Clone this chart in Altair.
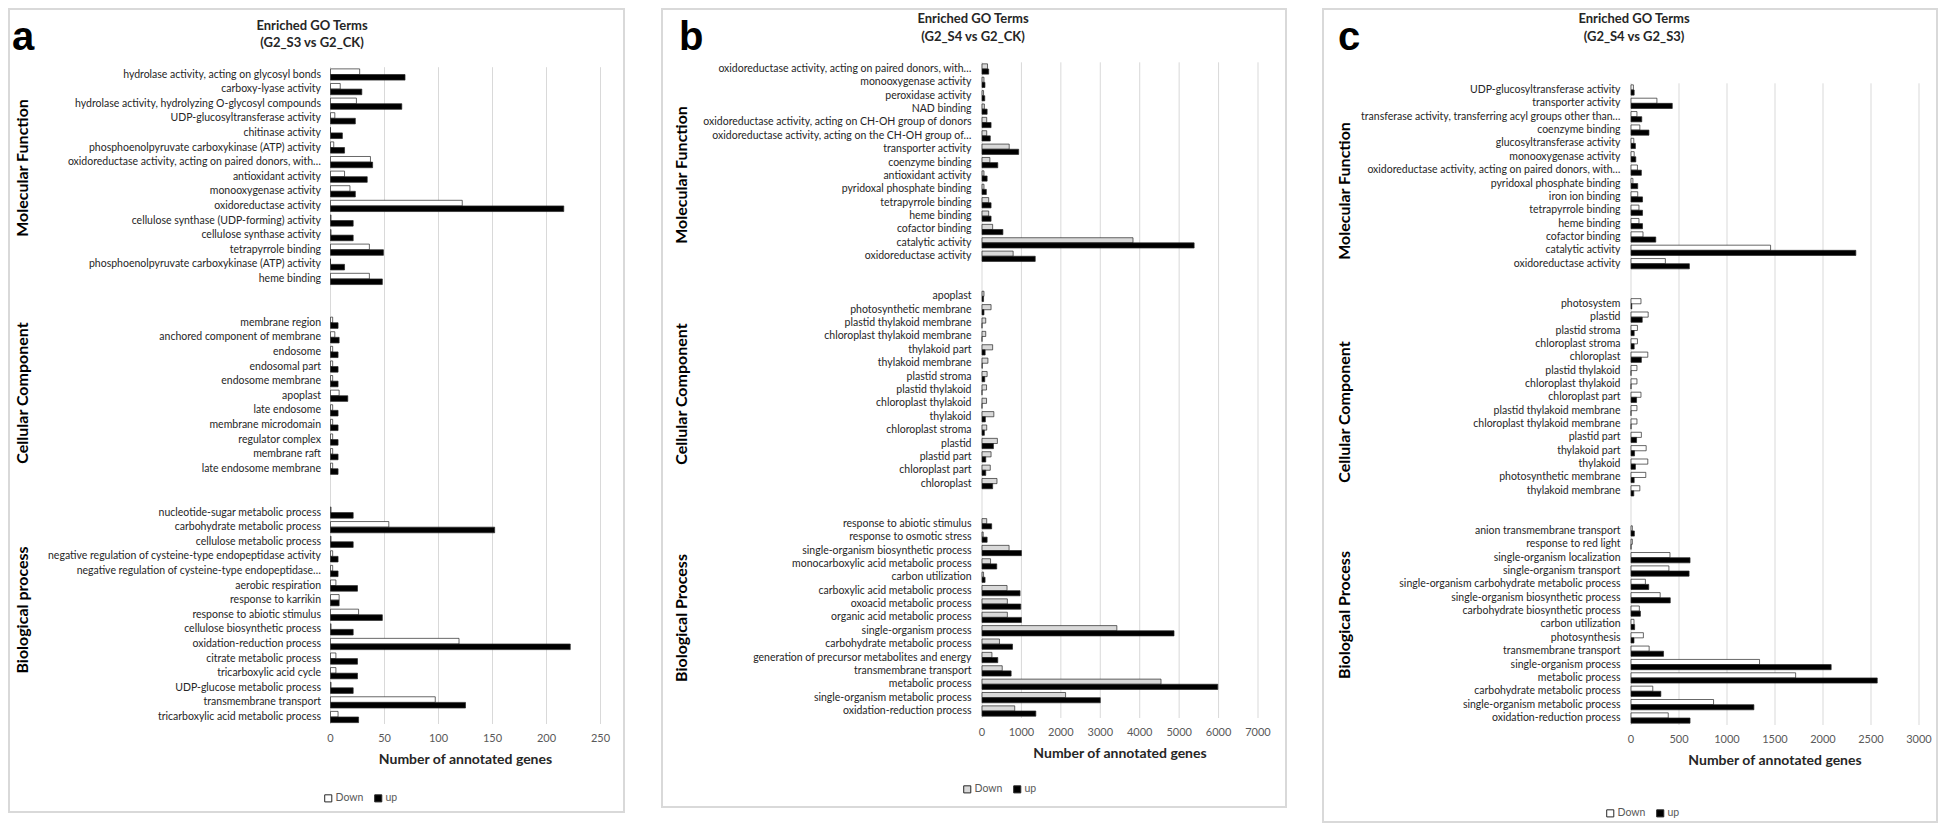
import altair as alt
import pandas as pd

# ---------------- data ----------------
SERIES = ["Down", "up"]
PANEL_LETTERS = ["a", "b", "c"]
PANEL_TITLES = [
    ["Enriched GO Terms", "(G2_S3 vs G2_CK)"],
    ["Enriched GO Terms", "(G2_S4 vs G2_CK)"],
    ["Enriched GO Terms", "(G2_S4 vs G2_S3)"],
]
GROUPS_A = ["Molecular Function", "Cellular Component", "Biological process"]
GROUPS_BC = ["Molecular Function", "Cellular Component", "Biological Process"]
X_TITLE = "Number of annotated genes"

# panel a
a_mf_terms = ["hydrolase activity, acting on glycosyl bonds", "carboxy-lyase activity",
              "hydrolase activity, hydrolyzing O-glycosyl compounds", "UDP-glucosyltransferase activity",
              "chitinase activity", "phosphoenolpyruvate carboxykinase (ATP) activity",
              "oxidoreductase activity, acting on paired donors, with\u2026", "antioxidant activity",
              "monooxygenase activity", "oxidoreductase activity", "cellulose synthase (UDP-forming) activity",
              "cellulose synthase activity", "tetrapyrrole binding",
              "phosphoenolpyruvate carboxykinase (ATP) activity", "heme binding"]
a_mf_down = [27, 9, 24, 4, 0, 3, 37, 13, 18, 122, 0.5, 0.5, 36, 0, 36]
a_mf_up = [69, 29, 66, 23, 11, 13, 39, 34, 23, 216, 21, 21, 49, 13, 48]

a_cc_terms = ["membrane region", "anchored component of membrane", "endosome", "endosomal part",
              "endosome membrane", "apoplast", "late endosome", "membrane microdomain",
              "regulator complex", "membrane raft", "late endosome membrane"]
a_cc_down = [2, 4, 2, 2, 2, 8, 2, 2, 2, 2, 2]
a_cc_up = [7, 8, 7, 7, 7, 16, 7, 7, 7, 7, 7]

a_bp_terms = ["nucleotide-sugar metabolic process", "carbohydrate metabolic process",
              "cellulose metabolic process",
              "negative regulation of cysteine-type endopeptidase activity",
              "negative regulation of cysteine-type endopeptidase\u2026", "aerobic respiration",
              "response to karrikin", "response to abiotic stimulus", "cellulose biosynthetic process",
              "oxidation-reduction process", "citrate metabolic process", "tricarboxylic acid cycle",
              "UDP-glucose metabolic process", "transmembrane transport",
              "tricarboxylic acid metabolic process"]
a_bp_down = [0.5, 54, 0.5, 2, 2, 5, 8, 26, 0.5, 119, 5, 5, 0.5, 97, 7]
a_bp_up = [21, 152, 21, 7, 7, 25, 8, 48, 21, 222, 25, 25, 21, 125, 26]
a_ticks = [0, 50, 100, 150, 200, 250]

# panel b
b_mf_terms = ["oxidoreductase activity, acting on paired donors, with\u2026", "monooxygenase activity",
              "peroxidase activity", "NAD binding",
              "oxidoreductase activity, acting on CH-OH group of donors",
              "oxidoreductase activity, acting on the CH-OH group of\u2026", "transporter activity",
              "coenzyme binding", "antioxidant activity", "pyridoxal phosphate binding",
              "tetrapyrrole binding", "heme binding", "cofactor binding", "catalytic activity",
              "oxidoreductase activity"]
b_mf_down = [140, 50, 40, 60, 120, 120, 690, 200, 50, 50, 170, 170, 270, 3830, 790]
b_mf_up = [170, 75, 70, 130, 230, 210, 930, 400, 130, 110, 230, 230, 530, 5380, 1350]

b_cc_terms = ["apoplast", "photosynthetic membrane", "plastid thylakoid membrane",
              "chloroplast thylakoid membrane", "thylakoid part", "thylakoid membrane", "plastid stroma",
              "plastid thylakoid", "chloroplast thylakoid", "thylakoid", "chloroplast stroma", "plastid",
              "plastid part", "chloroplast part", "chloroplast"]
b_cc_down = [50, 230, 95, 95, 270, 150, 130, 115, 115, 300, 120, 390, 230, 210, 380]
b_cc_up = [40, 50, 0, 0, 80, 5, 70, 0, 0, 85, 60, 290, 95, 95, 270]

b_bp_terms = ["response to abiotic stimulus", "response to osmotic stress",
              "single-organism biosynthetic process", "monocarboxylic acid metabolic process",
              "carbon utilization", "carboxylic acid metabolic process", "oxoacid metabolic process",
              "organic acid metabolic process", "single-organism process", "carbohydrate metabolic process",
              "generation of precursor metabolites and energy", "transmembrane transport",
              "metabolic process", "single-organism metabolic process", "oxidation-reduction process"]
b_bp_down = [120, 30, 687, 217, 40, 635, 643, 643, 3420, 443, 252, 513, 4540, 2120, 830]
b_bp_up = [245, 130, 1000, 374, 78, 965, 983, 1000, 4870, 774, 400, 739, 5980, 3000, 1365]
b_ticks = [0, 1000, 2000, 3000, 4000, 5000, 6000, 7000]

# panel c
c_mf_terms = ["UDP-glucosyltransferase activity", "transporter activity",
              "transferase activity, transferring acyl groups other than\u2026", "coenzyme binding",
              "glucosyltransferase activity", "monooxygenase activity",
              "oxidoreductase activity, acting on paired donors, with\u2026", "pyridoxal phosphate binding",
              "iron ion binding", "tetrapyrrole binding", "heme binding", "cofactor binding",
              "catalytic activity", "oxidoreductase activity"]
c_mf_down = [25, 270, 62, 92, 29, 33, 67, 20, 70, 83, 83, 125, 1454, 358]
c_mf_up = [33, 430, 112, 187, 46, 50, 108, 70, 120, 120, 120, 258, 2342, 608]

c_cc_terms = ["photosystem", "plastid", "plastid stroma", "chloroplast stroma", "chloroplast",
              "plastid thylakoid", "chloroplast thylakoid", "chloroplast part", "plastid thylakoid membrane",
              "chloroplast thylakoid membrane", "plastid part", "thylakoid part", "thylakoid",
              "photosynthetic membrane", "thylakoid membrane"]
c_cc_down = [104, 179, 67, 67, 175, 62, 62, 104, 62, 62, 108, 158, 175, 154, 92]
c_cc_up = [8, 117, 33, 33, 108, 0, 0, 58, 0, 0, 58, 37, 46, 33, 29]

c_bp_terms = ["anion transmembrane transport", "response to red light", "single-organism localization",
              "single-organism transport", "single-organism carbohydrate metabolic process",
              "single-organism biosynthetic process", "carbohydrate biosynthetic process",
              "carbon utilization", "photosynthesis", "transmembrane transport", "single-organism process",
              "metabolic process", "carbohydrate metabolic process", "single-organism metabolic process",
              "oxidation-reduction process"]
c_bp_down = [14, 14, 406, 395, 150, 304, 87, 31, 129, 189, 1339, 1715, 227, 860, 388]
c_bp_up = [35, 0, 615, 605, 185, 409, 98, 38, 31, 339, 2085, 2565, 311, 1280, 615]
c_ticks = [0, 500, 1000, 1500, 2000, 2500, 3000]

# ---------------- layout ----------------
W, H = 1930, 815
FONT = "Lato"
LABEL_COLOR = "#262626"
TICK_COLOR = "#595959"
GRID_COLOR = "#d9d9d9"
dummy = pd.DataFrame({"d": [0]})


def build_domain(groups):
    used = set()

    def uniq(s):
        while s in used:
            s += "\u200b"
        used.add(s)
        return s

    domain, keys = [], []
    for gi, terms in enumerate(groups):
        if gi > 0:
            domain.append(uniq("\u200b"))
            domain.append(uniq("\u200b"))
        ks = [uniq(t) for t in terms]
        keys.append(ks)
        domain.extend(ks)
    return domain, keys


def panel(groups, downs, ups, ticks, xr, yr, axis_y, down_fill, legend_xy, label_pad):
    domain, keys = build_domain(groups)
    term_keys = [k for ks in keys for k in ks]
    rows = []
    for ks, ds, us in zip(keys, downs, ups):
        for k, d, u in zip(ks, ds, us):
            rows.append({"term": k, "series": "Down", "value": d})
            rows.append({"term": k, "series": "up", "value": u})
    df = pd.DataFrame(rows)
    xscale = alt.Scale(domain=[ticks[0], ticks[-1]], range=xr, nice=False)
    yscale = alt.Scale(domain=domain, range=yr, paddingInner=0.23, paddingOuter=0.115)

    tick_df = pd.DataFrame({"v": ticks, "lab": [str(t) for t in ticks]})
    grid = alt.Chart(tick_df).mark_rule(color=GRID_COLOR, strokeWidth=1).encode(
        x=alt.X("v:Q", scale=xscale, axis=None),
        y=alt.value(yr[0]),
        y2=alt.value(axis_y),
    )
    tick_labels = alt.Chart(tick_df).mark_text(
        font=FONT, fontSize=11, color=TICK_COLOR, baseline="middle", align="center"
    ).encode(
        x=alt.X("v:Q", scale=xscale, axis=None),
        y=alt.value(axis_y + 15),
        text="lab:N",
    )
    x_title = alt.Chart(dummy).mark_text(
        text=X_TITLE, font=FONT, fontSize=14, fontWeight="bold", color=LABEL_COLOR, baseline="middle"
    ).encode(x=alt.value((xr[0] + xr[1]) / 2), y=alt.value(axis_y + 36))

    bars = alt.Chart(df).mark_bar(stroke="#262626", strokeWidth=0.7).encode(
        y=alt.Y("term:N", scale=yscale, title=None,
                axis=alt.Axis(orient="left", offset=-xr[0], values=term_keys, domain=False, ticks=False,
                              tickSize=0, grid=False, labelPadding=label_pad, labelFont=FONT,
                              labelFontSize=10.5, labelColor=LABEL_COLOR, labelLimit=700)),
        x=alt.X("value:Q", scale=xscale, axis=None),
        yOffset=alt.YOffset("series:N", scale=alt.Scale(domain=SERIES)),
        fill=alt.Fill("series:N", scale=alt.Scale(domain=SERIES, range=[down_fill, "#000000"]),
                      legend=alt.Legend(orient="none", legendX=legend_xy[0], legendY=legend_xy[1],
                                        direction="horizontal", title=None, symbolType="square",
                                        symbolSize=50, symbolStrokeColor="#262626", symbolStrokeWidth=1,
                                        labelFont=FONT, labelFontSize=10.5, labelColor=TICK_COLOR,
                                        columnPadding=8, labelOffset=2, padding=0)),
    )
    return alt.layer(grid, bars, tick_labels, x_title)


pa = panel([a_mf_terms, a_cc_terms, a_bp_terms], [a_mf_down, a_cc_down, a_bp_down],
           [a_mf_up, a_cc_up, a_bp_up], a_ticks, [322.5, 592.5], [59.2, 716.3], 716,
           "#ffffff", (315, 785), 10)
pb = panel([b_mf_terms, b_cc_terms, b_bp_terms], [b_mf_down, b_cc_down, b_bp_down],
           [b_mf_up, b_cc_up, b_bp_up], b_ticks, [974, 1250], [54.3, 709.7], 710,
           "#d9d9d9", (954, 776), 11)
pc = panel([c_mf_terms, c_cc_terms, c_bp_terms], [c_mf_down, c_cc_down, c_bp_down],
           [c_mf_up, c_cc_up, c_bp_up], c_ticks, [1623, 1911], [75.3, 716.7], 717,
           "#ffffff", (1597, 800), 11)


def box(x1, x2, y1, y2):
    return alt.Chart(dummy).mark_rect(fillOpacity=0, stroke=GRID_COLOR, strokeWidth=2).encode(
        x=alt.value(x1), x2=alt.value(x2), y=alt.value(y1), y2=alt.value(y2))


def txt(s, x, y, size, weight="bold", font=FONT, align="center", baseline="middle", angle=0,
        color=LABEL_COLOR):
    m = dict(text=s, font=font, fontSize=size, fontWeight=weight, align=align, baseline=baseline,
             color=color)
    if angle:
        m["angle"] = angle
    return alt.Chart(dummy).mark_text(**m).encode(x=alt.value(x), y=alt.value(y))


decor = [
    box(1, 616, 1, 804), box(654, 1278, 1, 799), box(1315, 1929, 1, 814),
]
letter_pos = [(4, 42), (671, 42), (1330, 42)]
for L, (lx, ly) in zip(PANEL_LETTERS, letter_pos):
    decor.append(txt(L, lx, ly, 40, font="Liberation Sans", align="left", baseline="alphabetic",
                     color="#000000"))
title_pos = [(304, 18, 35), (965, 11, 29), (1626, 11, 29)]
for T, (tx, ty1, ty2) in zip(PANEL_TITLES, title_pos):
    decor.append(txt(T[0], tx, ty1, 13))
    decor.append(txt(T[1], tx, ty2, 13))
group_pos = [
    (15, [160, 385, 602], GROUPS_A),
    (674, [167, 386, 610], GROUPS_BC),
    (1337, [183, 404, 607], GROUPS_BC),
]
for gx, gys, names in group_pos:
    for name, gy in zip(names, gys):
        decor.append(txt(name, gx, gy, 16, angle=270, color="#000000"))

chart = alt.layer(pa, pb, pc, *decor).resolve_scale(
    x="independent", y="independent", yOffset="independent", fill="independent"
).properties(
    width=W, height=H, padding=0, autosize=alt.AutoSizeParams(type="none"), background="white"
).configure_view(stroke="transparent")

chart.save("out.html", embed_options={"renderer": "svg", "actions": False})
